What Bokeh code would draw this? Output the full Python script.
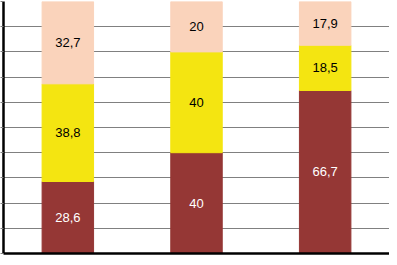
from bokeh.plotting import figure
from bokeh.models import ColumnDataSource, Range1d, FixedTicker
from bokeh.core.properties import value
from bokeh.embed import file_html
from bokeh.resources import INLINE

categories = ["1", "2", "3"]
series_names = ["bottom", "middle", "top"]
bottom_vals = [28.6, 40, 66.7]
middle_vals = [38.8, 40, 18.5]
top_vals = [32.7, 20, 17.9]
series_colors = ["#953735", "#F4E511", "#FAD3BB"]
label_colors = ["white", "black", "black"]
y_ticks = [0, 10, 20, 30, 40, 50, 60, 70, 80, 90, 100]

series = [bottom_vals, middle_vals, top_vals]
xs = list(range(len(categories)))
totals = [sum(s[i] for s in series) for i in xs]
pct = {name: [s[i] / totals[i] * 100 for i in xs]
       for name, s in zip(series_names, series)}

source = ColumnDataSource(dict(x=xs, cat=categories, **pct))

p = figure(width=389, height=256, x_range=Range1d(-0.5, len(categories) - 0.5),
           y_range=Range1d(0, 100), output_backend="svg", toolbar_location=None,
           min_border_left=0, min_border_right=0, min_border_top=1, min_border_bottom=3)

p.vbar_stack(series_names, x="x", width=0.4, color=series_colors, source=source)

lx, ly, lt, lc = [], [], [], []
for k, (name, s, col) in enumerate(zip(series_names, series, label_colors)):
    for i in xs:
        base = sum(pct[n][i] for n in series_names[:k])
        lx.append(i)
        ly.append(base + pct[name][i] / 2)
        lt.append(f"{s[i]:g}".replace(".", ","))
        lc.append(col)
lsrc = ColumnDataSource(dict(x=lx, y=ly, t=lt, c=lc))
p.text(x="x", y="y", text="t", text_color="c", source=lsrc,
       text_align="center", text_baseline="middle",
       text_font=value("Liberation Sans"), text_font_size="13px")

p.outline_line_color = None
p.xgrid.grid_line_color = None
p.ygrid.grid_line_color = "#808080"
p.ygrid.grid_line_width = 1
p.yaxis.ticker = FixedTicker(ticks=y_ticks, minor_ticks=[])
p.yaxis.major_label_overrides = {t: "" for t in y_ticks}
p.yaxis.major_label_standoff = 0
p.yaxis.major_tick_in = 0
p.yaxis.major_tick_out = 3
p.yaxis.major_tick_line_color = "#808080"
p.yaxis.minor_tick_line_color = None
p.yaxis.axis_line_color = "black"
p.yaxis.axis_line_width = 2.5

p.xaxis.ticker = FixedTicker(ticks=[], minor_ticks=[])
p.xaxis.major_label_standoff = 0
p.xaxis.major_tick_line_color = None
p.xaxis.minor_tick_line_color = None
p.xaxis.axis_line_color = "black"
p.xaxis.axis_line_width = 2.5

open("out.html", "w").write(file_html(p, INLINE))
